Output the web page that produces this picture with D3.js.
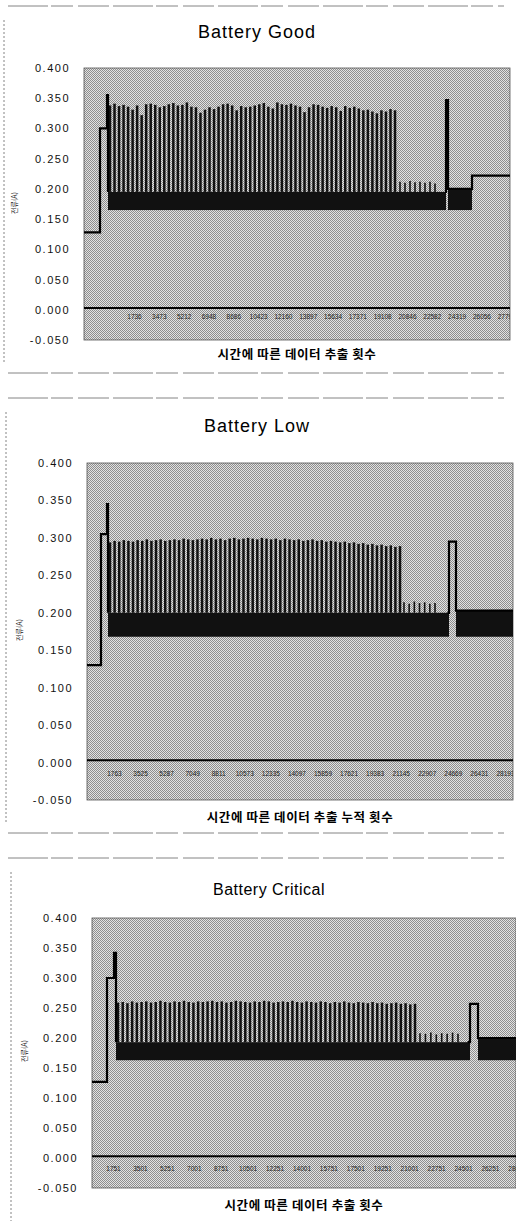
<!DOCTYPE html>
<html>
<head>
<meta charset="utf-8">
<script src="https://cdn.jsdelivr.net/npm/d3@7"></script>
<style>
body { margin: 0; background: #fff; }
svg { display: block; }
</style>
</head>
<body>
<svg width="516" height="1221"></svg>
<script>
// ---- data ----
var titles = ["Battery Good", "Battery Low", "Battery Critical"];
var xTitles = ["시간에 따른 데이터 추출 횟수", "시간에 따른 데이터 추출 누적 횟수", "시간에 따른 데이터 추출 횟수"];
var yLabel = "전류(A)";
var yTicks = [-0.05, 0, 0.05, 0.1, 0.15, 0.2, 0.25, 0.3, 0.35, 0.4];

var xTicksGood = [1736, 3473, 5212, 6948, 8686, 10423, 12160, 13897, 15634, 17371, 19108, 20846, 22582, 24319, 26056, 27793];
var xTicksLow = [1763, 3525, 5287, 7049, 8811, 10573, 12335, 14097, 15859, 17621, 19383, 21145, 22907, 24669, 26431, 28193];
var xTicksCritical = [1751, 3501, 5251, 7001, 8751, 10501, 12251, 14001, 15751, 17501, 19251, 21001, 22751, 24501, 26251, 28001];

// step trace: [sample, current]; null splits the lead-in from the tail
var traceGood = [[-1764, 0.128], [-644, 0.300], [-154, 0.355], [-84, 0.195], null,
                 [23500, 0.195], [23576, 0.347], [23716, 0.200], [25396, 0.222], [28056, 0.222]];
var traceLow = [[-60, 0.130], [886, 0.305], [1292, 0.345], [1360, 0.200], null,
                [24300, 0.200], [24411, 0.295], [24884, 0.203], [28738, 0.203]];
var traceCritical = [[386, 0.127], [1361, 0.300], [1816, 0.342], [1946, 0.193], null,
                     [24800, 0.193], [24956, 0.257], [25476, 0.200], [27946, 0.200]];

// dense switching band: [from, to, low, high]
var bandGood = [[-84, 23576, 0.165, 0.195], [23716, 25396, 0.165, 0.200]];
var bandLow = [[1360, 24411, 0.168, 0.200], [24884, 28738, 0.168, 0.203]];
var bandCritical = [[1946, 24956, 0.163, 0.193], [25476, 27946, 0.163, 0.200]];

// pulse peaks and the sample span they cover
var spikeSpanGood = [56, 20006];
var spikesGood = [0.338,0.341,0.337,0.339,0.336,0.331,0.338,0.322,0.340,0.341,
  0.339,0.335,0.337,0.340,0.342,0.338,0.339,0.343,0.336,0.335,
  0.326,0.331,0.335,0.332,0.336,0.340,0.341,0.338,0.330,0.337,
  0.335,0.336,0.338,0.340,0.342,0.336,0.333,0.343,0.340,0.339,
  0.341,0.338,0.336,0.327,0.335,0.340,0.339,0.336,0.334,0.337,
  0.335,0.329,0.337,0.334,0.336,0.333,0.330,0.331,0.328,0.325,
  0.330,0.328,0.332,0.330];
var smallSpanGood = [20356, 22806];
var smallGood = [0.212, 0.210, 0.213, 0.211, 0.212, 0.210, 0.212, 0.209];

var spikeSpanLow = [1495, 21099];
var spikesLow = [0.294,0.296,0.295,0.297,0.296,0.295,0.297,0.296,0.298,0.296,
  0.297,0.298,0.296,0.297,0.298,0.297,0.299,0.298,0.297,0.298,
  0.299,0.298,0.300,0.298,0.299,0.297,0.299,0.300,0.298,0.299,
  0.300,0.299,0.298,0.300,0.299,0.298,0.299,0.297,0.299,0.298,
  0.297,0.298,0.296,0.297,0.298,0.296,0.297,0.295,0.296,0.295,
  0.294,0.295,0.293,0.294,0.292,0.293,0.291,0.292,0.290,0.291,
  0.289,0.290,0.288,0.289];
var smallSpanLow = [21369, 23465];
var smallLow = [0.214, 0.212, 0.215, 0.213, 0.214, 0.212, 0.213];

var spikeSpanCritical = [2076, 21381];
var spikesCritical = [0.259,0.260,0.258,0.261,0.259,0.260,0.261,0.259,0.260,0.262,
  0.260,0.259,0.261,0.260,0.262,0.260,0.259,0.261,0.260,0.261,
  0.262,0.260,0.261,0.259,0.260,0.262,0.261,0.260,0.259,0.261,
  0.260,0.262,0.261,0.259,0.260,0.261,0.260,0.262,0.260,0.259,
  0.261,0.260,0.259,0.261,0.260,0.258,0.260,0.259,0.261,0.259,
  0.258,0.260,0.259,0.258,0.260,0.258,0.259,0.257,0.258,0.259,
  0.257,0.258,0.256,0.257];
var smallSpanCritical = [21706, 24176];
var smallCritical = [0.208, 0.207, 0.209, 0.206, 0.208, 0.207, 0.209, 0.207];

var zeroLevel = 0.003;

// ---- layout ----
var panels = [
  {title: titles[0], titleX: 257, titleY: 38, titleSize: 18, titleSpacing: 1,
   left: 84, right: 510, top: 68, bottom: 340, xDomain: [-1764, 28056],
   xTicks: xTicksGood, trace: traceGood, band: bandGood,
   spikes: spikesGood, spikeSpan: spikeSpanGood, small: smallGood, smallSpan: smallSpanGood,
   xTitle: xTitles[0], xTitleY: 359, tickDy: 11, yLabX: 15, yLabY: 203,
   frameX: 4, frameTop: 6, frameBottom: 373},
  {title: titles[1], titleX: 257, titleY: 432, titleSize: 18, titleSpacing: 1,
   left: 87, right: 513, top: 463, bottom: 800, xDomain: [-60, 28738],
   xTicks: xTicksLow, trace: traceLow, band: bandLow,
   spikes: spikesLow, spikeSpan: spikeSpanLow, small: smallLow, smallSpan: smallSpanLow,
   xTitle: xTitles[1], xTitleY: 822, tickDy: 15, yLabX: 20, yLabY: 630,
   frameX: 6, frameTop: 398, frameBottom: 833},
  {title: titles[2], titleX: 269, titleY: 895, titleSize: 16, titleSpacing: 0.5,
   left: 92, right: 516, top: 918, bottom: 1188, xDomain: [386, 27946],
   xTicks: xTicksCritical, trace: traceCritical, band: bandCritical,
   spikes: spikesCritical, spikeSpan: spikeSpanCritical, small: smallCritical, smallSpan: smallSpanCritical,
   xTitle: xTitles[2], xTitleY: 1210, tickDy: 14, yLabX: 25, yLabY: 1051,
   frameX: 11, frameTop: 858, frameBottom: null}
];

var svg = d3.select("svg");
var defs = svg.append("defs");

var pat = defs.append("pattern")
    .attr("id", "dither")
    .attr("width", 2).attr("height", 2)
    .attr("patternUnits", "userSpaceOnUse");
pat.append("rect").attr("width", 2).attr("height", 2).attr("fill", "#e2e2e2");
pat.append("rect").attr("width", 1).attr("height", 1).attr("fill", "#8e8e8e");
pat.append("rect").attr("x", 1).attr("y", 1).attr("width", 1).attr("height", 1).attr("fill", "#8e8e8e");

var fmt = d3.format(".3f");

panels.forEach(drawPanel);

function drawPanel(p, i) {
  var x = d3.scaleLinear().domain(p.xDomain).range([p.left, p.right]),
      y = d3.scaleLinear().domain([-0.05, 0.4]).range([p.bottom, p.top]);

  // scanned page frame
  var frame = svg.append("g")
      .attr("fill", "none")
      .attr("stroke", "#666")
      .attr("stroke-width", 0.8)
      .attr("stroke-dasharray", "40,3,22,5,31,4");
  frame.append("line").attr("x1", 8).attr("x2", 504).attr("y1", p.frameTop).attr("y2", p.frameTop);
  if (p.frameBottom) {
    frame.append("line").attr("x1", 8).attr("x2", 504).attr("y1", p.frameBottom).attr("y2", p.frameBottom);
  }
  frame.append("line")
      .attr("stroke-dasharray", "2,2")
      .attr("x1", p.frameX).attr("x2", p.frameX)
      .attr("y1", p.frameTop + 14).attr("y2", p.frameBottom ? p.frameBottom - 10 : 1221);

  svg.append("text")
      .attr("x", p.titleX).attr("y", p.titleY)
      .attr("text-anchor", "middle")
      .style("font-family", "'Liberation Sans', Arial, sans-serif")
      .style("font-size", p.titleSize + "px")
      .style("letter-spacing", p.titleSpacing + "px")
      .text(p.title);

  // plot area
  svg.append("rect")
      .attr("x", p.left).attr("y", p.top)
      .attr("width", p.right - p.left).attr("height", p.bottom - p.top)
      .attr("fill", "url(#dither)")
      .attr("stroke", "#555")
      .attr("stroke-width", 0.8);

  var clipId = "clip" + i;
  defs.append("clipPath").attr("id", clipId)
    .append("rect")
      .attr("x", p.left).attr("y", p.top - 2)
      .attr("width", p.right - p.left).attr("height", p.bottom - p.top + 4);

  var plot = svg.append("g").attr("clip-path", "url(#" + clipId + ")");

  // dense band
  plot.selectAll(".band")
    .data(p.band)
    .enter().append("rect")
      .attr("class", "band")
      .attr("x", function(d) { return x(d[0]); })
      .attr("width", function(d) { return x(d[1]) - x(d[0]); })
      .attr("y", function(d) { return y(d[3]); })
      .attr("height", function(d) { return y(d[2]) - y(d[3]); })
      .attr("fill", "#111");

  // pulses
  var sx = d3.scalePoint().domain(d3.range(p.spikes.length)).range(p.spikeSpan),
      smx = d3.scalePoint().domain(d3.range(p.small.length)).range(p.smallSpan),
      base = p.band[0][3];

  plot.selectAll(".spike")
    .data(p.spikes)
    .enter().append("line")
      .attr("class", "spike")
      .attr("x1", function(d, j) { return x(sx(j)); })
      .attr("x2", function(d, j) { return x(sx(j)); })
      .attr("y1", y(base))
      .attr("y2", function(d) { return y(d); })
      .attr("stroke", "#111")
      .attr("stroke-width", 2.5);

  plot.selectAll(".small")
    .data(p.small)
    .enter().append("line")
      .attr("class", "small")
      .attr("x1", function(d, j) { return x(smx(j)); })
      .attr("x2", function(d, j) { return x(smx(j)); })
      .attr("y1", y(base))
      .attr("y2", function(d) { return y(d); })
      .attr("stroke", "#111")
      .attr("stroke-width", 1.6);

  var line = d3.line()
      .defined(function(d) { return d != null; })
      .curve(d3.curveStepAfter)
      .x(function(d) { return x(d[0]); })
      .y(function(d) { return y(d[1]); });

  plot.append("path")
      .attr("d", line(p.trace))
      .attr("fill", "none")
      .attr("stroke", "#000")
      .attr("stroke-width", 2.2);

  plot.append("path")
      .attr("d", line([[p.xDomain[0], zeroLevel], [p.xDomain[1], zeroLevel]]))
      .attr("fill", "none")
      .attr("stroke", "#000")
      .attr("stroke-width", 2);

  // x tick labels sit inside the plot, under the zero line
  var xAxis = d3.axisBottom(x).tickValues(p.xTicks).tickSize(0).tickPadding(0).tickFormat(d3.format("d"));
  var gx = plot.append("g")
      .attr("transform", "translate(0," + (y(0) + p.tickDy - 6) + ")")
      .call(xAxis);
  gx.select(".domain").remove();
  gx.selectAll("text")
      .style("font-family", "'Liberation Sans', Arial, sans-serif")
      .style("font-size", "6.5px")
      .attr("fill", "#222");

  var yAxis = d3.axisLeft(y).tickValues(yTicks).tickSize(0).tickPadding(14)
      .tickFormat(function(d) { return fmt(d).replace("\u2212", "-"); });
  var gy = svg.append("g")
      .attr("transform", "translate(" + p.left + ",0)")
      .call(yAxis);
  gy.select(".domain").remove();
  gy.selectAll("text")
      .style("font-family", "'Liberation Sans', Arial, sans-serif")
      .style("font-size", "11px")
      .style("letter-spacing", "1.5px")
      .attr("fill", "#111");

  svg.append("text")
      .attr("transform", "translate(" + p.yLabX + "," + p.yLabY + ")rotate(-90)")
      .attr("text-anchor", "middle")
      .attr("dy", "0.35em")
      .style("font-family", "'Noto Sans CJK KR', sans-serif")
      .style("font-size", "7px")
      .attr("fill", "#222")
      .text(yLabel);

  svg.append("text")
      .attr("x", (p.left + p.right) / 2).attr("y", p.xTitleY)
      .attr("text-anchor", "middle")
      .style("font-family", "'Noto Sans CJK KR', sans-serif")
      .style("font-weight", "bold")
      .style("font-size", "12.5px")
      .style("letter-spacing", "0.6px")
      .text(p.xTitle);
}
</script>
</body>
</html>
